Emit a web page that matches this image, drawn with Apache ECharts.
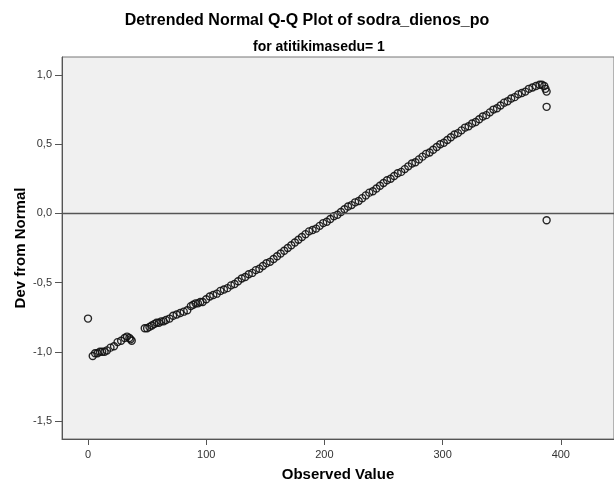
<!DOCTYPE html>
<html>
<head>
<meta charset="utf-8">
<script src="https://cdn.jsdelivr.net/npm/echarts/dist/echarts.min.js"></script>
<style>
html,body{margin:0;padding:0;background:#fff;}
#chart{width:614px;height:490px;}
</style>
</head>
<body>
<div id="chart"></div>
<script>
var titleText = 'Detrended Normal Q-Q Plot of sodra_dienos_po';
var subtitleText = 'for atitikimasedu= 1';
var xAxisName = 'Observed Value';
var yAxisName = 'Dev from Normal';
var xTicks = [0, 100, 200, 300, 400];
var yTicks = [-1.5, -1.0, -0.5, 0.0, 0.5, 1.0];

var observed = [0,4,6,8,10,12,14,16,19,22,25,28,31,33,35,36,37,
48,50,52,54,56,58,60,62,64,66,69,72,75,78,81,84,87,89,91,93,95,97,
100,103,106,109,112,115,118,121,124,127,130,133,136,139,142,145,148,
151,154,157,160,163,166,169,172,175,178,181,184,187,190,193,196,199,
202,205,208,211,214,217,220,223,226,229,232,235,238,241,244,247,250,
253,256,259,262,265,268,271,274,277,280,283,286,289,292,295,298,301,
304,307,310,313,316,319,322,325,328,331,334,337,340,343,346,349,352,
355,358,361,364,367,370,373,376,379,382,384,386,387,388,388,388];

var devFromNormal = [-0.76,-1.03,-1.01,-1.01,-1.00,-1.00,-1.00,-0.99,-0.97,-0.96,-0.93,-0.92,-0.90,-0.89,-0.90,-0.91,-0.92,
-0.83,-0.83,-0.82,-0.81,-0.80,-0.79,-0.79,-0.78,-0.78,-0.77,-0.76,-0.74,-0.73,-0.72,-0.71,-0.70,-0.67,-0.66,-0.65,-0.65,-0.64,-0.64,
-0.62,-0.60,-0.59,-0.58,-0.56,-0.55,-0.54,-0.52,-0.51,-0.49,-0.47,-0.46,-0.44,-0.43,-0.41,-0.40,-0.38,
-0.36,-0.35,-0.33,-0.31,-0.29,-0.27,-0.25,-0.23,-0.21,-0.19,-0.17,-0.15,-0.13,-0.12,-0.11,-0.09,-0.07,
-0.06,-0.04,-0.02,-0.01,0.01,0.03,0.05,0.06,0.08,0.09,0.11,0.13,0.15,0.16,0.18,0.20,0.22,
0.24,0.25,0.27,0.29,0.30,0.32,0.34,0.36,0.37,0.39,0.41,0.43,0.44,0.46,0.48,0.50,0.51,
0.53,0.55,0.57,0.58,0.60,0.62,0.63,0.65,0.66,0.68,0.70,0.71,0.73,0.75,0.76,0.78,0.80,
0.81,0.83,0.84,0.86,0.87,0.88,0.90,0.91,0.92,0.93,0.93,0.92,0.90,0.88,0.77,-0.05];

var points = observed.map(function (x, i) { return [x, devFromNormal[i]]; });

var chart = echarts.init(document.getElementById('chart'), null, {renderer: 'canvas'});
var fontFam = '"Liberation Sans", Arial, sans-serif';
chart.setOption({
  animation: false,
  backgroundColor: '#ffffff',
  title: [
    {text: titleText, left: 'center', top: 8,
     textStyle: {fontFamily: fontFam, fontSize: 16, fontWeight: 'bold', color: '#000'}},
    {text: subtitleText, left: 248, top: 35,
     textStyle: {fontFamily: fontFam, fontSize: 14, fontWeight: 'bold', color: '#000'}}
  ],
  grid: {left: 62, right: 0, top: 57, bottom: 51, show: true,
         backgroundColor: '#f0f0f0', borderColor: '#777', borderWidth: 1},
  xAxis: {
    type: 'value', min: -22, max: 445,
    name: xAxisName, nameLocation: 'middle', nameGap: 28,
    nameTextStyle: {fontFamily: fontFam, fontSize: 15, fontWeight: 'bold', color: '#000'},
    axisLine: {show: true, onZero: false, lineStyle: {color: '#555', width: 1}},
    axisTick: {show: true, length: 6, lineStyle: {color: '#555'}, customValues: xTicks},
    axisLabel: {fontFamily: fontFam, fontSize: 11, color: '#333', margin: 10, customValues: xTicks,
                formatter: function (v) { return String(v); }},
    splitLine: {show: false}
  },
  yAxis: {
    type: 'value', min: -1.63, max: 1.13,
    name: yAxisName, nameLocation: 'middle', nameGap: 34, nameRotate: 90,
    nameMoveOverlap: false,
    nameTextStyle: {fontFamily: fontFam, fontSize: 15, fontWeight: 'bold', color: '#000'},
    axisLine: {show: true, onZero: false, lineStyle: {color: '#555', width: 1}},
    axisTick: {show: true, length: 7, lineStyle: {color: '#555'}, customValues: yTicks},
    axisLabel: {fontFamily: fontFam, fontSize: 11, color: '#333', margin: 10, customValues: yTicks,
                formatter: function (v) { return v.toFixed(1).replace('.', ','); }},
    splitLine: {show: false}
  },
  series: [{
    type: 'scatter',
    data: points,
    symbol: 'circle',
    symbolSize: 7,
    itemStyle: {color: 'rgba(0,0,0,0)', borderColor: '#111', borderWidth: 1.4, opacity: 0.9},
    markLine: {
      silent: true, symbol: ['none', 'none'],
      label: {show: false},
      lineStyle: {color: '#555', width: 1.4, type: 'solid'},
      data: [{yAxis: 0}]
    },
    z: 3
  }]
});
</script>
</body>
</html>
